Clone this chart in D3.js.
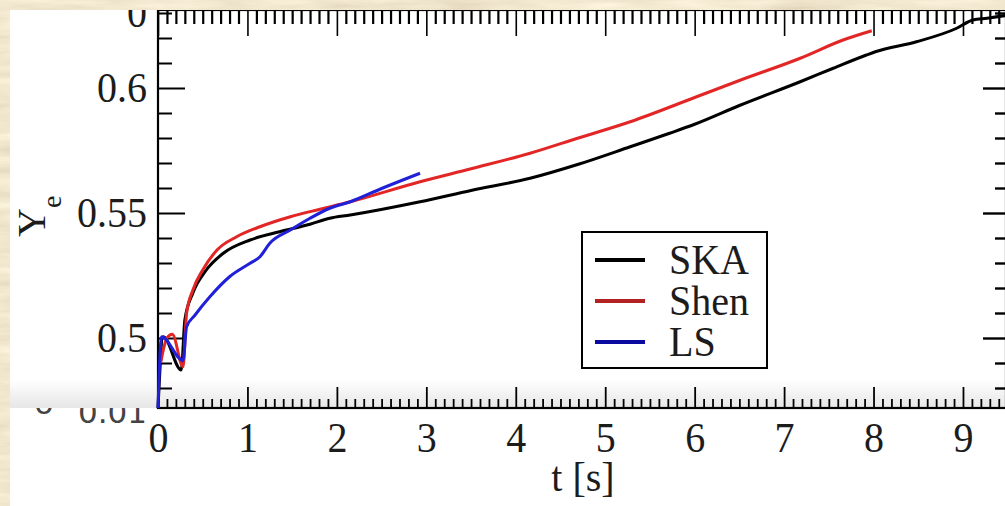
<!DOCTYPE html>
<html>
<head>
<meta charset="utf-8">
<script src="https://cdn.jsdelivr.net/npm/d3@7"></script>
<style>
  html, body { margin: 0; padding: 0; background: #e2d0a6; }
  #chart { width: 1005px; height: 506px; }
  text { font-family: "Liberation Serif", "Times New Roman", serif; }
</style>
</head>
<body>
<div id="chart"></div>
<script>
// Ye vs time for three equations of state

const skaT  = [0, 0.06, 0.26, 0.30, 0.39, 0.54, 0.73, 1.03, 1.36, 1.70, 1.92, 2.15, 2.93, 3.5, 4.16, 4.7, 5.28, 5.72, 6.0, 6.5, 7.18, 7.55, 7.92, 8.02, 8.48, 8.93, 9.11, 9.27, 9.48];
const skaYe = [0.472, 0.5005, 0.4872, 0.5072, 0.518, 0.5272, 0.5339, 0.5392, 0.5425, 0.5455, 0.5479, 0.5492, 0.5545, 0.5590, 0.5639, 0.5695, 0.5765, 0.5819, 0.5855, 0.5930, 0.6025, 0.6079, 0.6132, 0.6145, 0.6185, 0.6239, 0.6272, 0.6279, 0.6290];

const shenT  = [0.03, 0.10, 0.16, 0.28, 0.32, 0.39, 0.50, 0.66, 0.88, 1.14, 1.48, 1.81, 2.15, 2.93, 3.5, 4.16, 4.7, 5.28, 6.0, 6.5, 7.18, 7.66, 7.98];
const shenYe = [0.490, 0.500, 0.5015, 0.4885, 0.510, 0.5192, 0.5272, 0.5352, 0.5405, 0.5445, 0.5485, 0.5515, 0.5545, 0.5625, 0.5677, 0.5739, 0.5800, 0.5865, 0.5962, 0.6030, 0.6119, 0.6192, 0.6229];

const lsT  = [0, 0.04, 0.28, 0.32, 0.41, 0.58, 0.80, 1.03, 1.14, 1.25, 1.48, 1.70, 1.92, 2.15, 2.5, 2.93];
const lsYe = [0.472, 0.5005, 0.491, 0.5045, 0.509, 0.5165, 0.5245, 0.5299, 0.5325, 0.5379, 0.5432, 0.5479, 0.5519, 0.5545, 0.5598, 0.5659];

const seriesNames = ['SKA', 'Shen', 'LS'];
const lineColors = ['#000000', '#e22626', '#2020d8'];
const legendColors = ['#000000', '#b22222', '#0a0aa0'];

const xMajor = [0, 1, 2, 3, 4, 5, 6, 7, 8, 9];
const yMajor = [0.5, 0.55, 0.6];

const W = 1005, H = 506;
const plot = { left: 158, right: 1006, top: 10, bottom: 408 };
const ink = '#1c1c1c';

const series = [
    { name: seriesNames[0], pts: skaT.map((t, i) => [t, skaYe[i]]) },
    { name: seriesNames[1], pts: shenT.map((t, i) => [t, shenYe[i]]) },
    { name: seriesNames[2], pts: lsT.map((t, i) => [t, lsYe[i]]) }
];

function drawChart() {
    const svg = d3.select('#chart').append('svg')
        .attr('width', W)
        .attr('height', H);

    const defs = svg.append('defs');

    // parchment texture behind the figure
    const f = defs.append('filter').attr('id', 'parch')
        .attr('x', 0).attr('y', 0).attr('width', 1).attr('height', 1);
    f.append('feTurbulence')
        .attr('type', 'fractalNoise')
        .attr('baseFrequency', '0.012 0.09')
        .attr('numOctaves', 4)
        .attr('seed', 7);
    f.append('feColorMatrix')
        .attr('type', 'matrix')
        .attr('values', '0.32 0 0 0 0.72  0.32 0 0 0 0.64  0.32 0 0 0 0.46  0 0 0 0 1');

    const grad = defs.append('linearGradient').attr('id', 'band')
        .attr('x1', 0).attr('y1', 0).attr('x2', 0).attr('y2', 1);
    grad.append('stop').attr('offset', '0%').attr('stop-color', '#ffffff');
    grad.append('stop').attr('offset', '100%').attr('stop-color', '#e6e6e6');

    defs.append('clipPath').attr('id', 'panel')
        .append('rect').attr('x', 10).attr('y', 10).attr('width', W - 10).attr('height', H - 10);

    svg.append('rect')
        .attr('width', W).attr('height', H)
        .attr('fill', '#e2d0a6')
        .attr('filter', 'url(#parch)');

    const root = svg.append('g').attr('clip-path', 'url(#panel)');

    root.append('rect')
        .attr('x', 10).attr('y', 10)
        .attr('width', W - 10).attr('height', H - 10)
        .attr('fill', '#fff');

    // fragments of the panel below, partly hidden
    root.append('text')
        .attr('x', 147).attr('y', 423)
        .attr('text-anchor', 'end')
        .style('font-family', '"DejaVu Sans", sans-serif')
        .style('font-size', '31px')
        .attr('fill', '#444')
        .text('0.01');
    root.append('text')
        .attr('x', 44).attr('y', 414)
        .attr('text-anchor', 'middle')
        .style('font-family', '"DejaVu Sans", sans-serif')
        .style('font-size', '31px')
        .attr('fill', '#444')
        .text('o');

    root.append('rect')
        .attr('x', 10).attr('y', 380)
        .attr('width', W - 10).attr('height', plot.bottom - 380)
        .attr('fill', 'url(#band)');

    const x = d3.scaleLinear().domain([0, 9.481]).range([plot.left, plot.right]);
    const y = d3.scaleLinear().domain([0.472, 0.6312]).range([plot.bottom, plot.top]);

    const xMinor = d3.range(0, 95).map(i => i / 10).filter(v => Math.abs(v - Math.round(v)) > 1e-6);
    const yMinor = d3.range(48, 64).map(i => i / 100).filter(v => !yMajor.some(m => Math.abs(m - v) < 1e-6));

    function styleAxis(g, w) {
        g.select('.domain').remove();
        g.selectAll('line').attr('stroke', '#000').attr('stroke-width', w);
    }

    // minor ticks
    root.append('g').attr('transform', `translate(0,${plot.bottom})`)
        .call(d3.axisBottom(x).tickValues(xMinor).tickSize(-9).tickFormat(''))
        .call(g => styleAxis(g, 1.8));
    root.append('g').attr('transform', `translate(0,${plot.top})`)
        .call(d3.axisTop(x).tickValues(xMinor).tickSize(-14).tickFormat(''))
        .call(g => styleAxis(g, 2.2));
    root.append('g').attr('transform', `translate(${plot.left},0)`)
        .call(d3.axisLeft(y).tickValues(yMinor).tickSize(-14).tickFormat(''))
        .call(g => styleAxis(g, 2));
    root.append('g').attr('transform', `translate(${plot.right},0)`)
        .call(d3.axisLeft(y).tickValues(yMinor).tickSize(11).tickFormat(''))
        .call(g => styleAxis(g, 2.4));

    // major ticks with labels
    const xAxis = root.append('g').attr('transform', `translate(0,${plot.bottom})`)
        .call(d3.axisBottom(x).tickValues(xMajor).tickSize(-21).tickPadding(12).tickFormat(d3.format('d')))
        .call(g => styleAxis(g, 1.8));
    root.append('g').attr('transform', `translate(0,${plot.top})`)
        .call(d3.axisTop(x).tickValues(xMajor).tickSize(-26).tickFormat(''))
        .call(g => styleAxis(g, 1.6));
    const yAxis = root.append('g').attr('transform', `translate(${plot.left},0)`)
        .call(d3.axisLeft(y).tickValues(yMajor).tickSize(-27).tickPadding(11).tickFormat(d => String(d)))
        .call(g => styleAxis(g, 2));
    root.append('g').attr('transform', `translate(${plot.right},0)`)
        .call(d3.axisLeft(y).tickValues(yMajor).tickSize(23).tickFormat(''))
        .call(g => styleAxis(g, 2.4));

    [xAxis, yAxis].forEach(a => a.selectAll('text')
        .attr('transform', 'scale(1,1.08)')
        .attr('fill', ink)
        .style('font-family', '"Liberation Serif", serif')
        .style('font-size', '40px'));

    // clipped label remnant at the top of the y axis
    root.append('text')
        .attr('transform', `translate(${plot.left - 11},${y(0.63)}) scale(1,1.08)`)
        .attr('dy', '0.32em')
        .attr('text-anchor', 'end')
        .style('font-size', '40px')
        .attr('fill', ink)
        .text('0');

    // frame
    root.append('rect')
        .attr('x', plot.left).attr('y', plot.top)
        .attr('width', plot.right - plot.left).attr('height', plot.bottom - plot.top)
        .attr('fill', 'none')
        .attr('stroke', '#000')
        .attr('stroke-width', 2.2);

    // curves
    const line = d3.line().x(d => x(d[0])).y(d => y(d[1])).curve(d3.curveMonotoneX);
    root.append('g').selectAll('path')
        .data(series)
        .join('path')
        .attr('d', d => line(d.pts))
        .attr('fill', 'none')
        .attr('stroke', (d, i) => lineColors[i])
        .attr('stroke-width', 3)
        .attr('stroke-linejoin', 'round');

    // axis titles
    root.append('text')
        .attr('transform', 'translate(583,491) scale(1,1.05)')
        .attr('text-anchor', 'middle')
        .style('font-size', '40px')
        .attr('fill', ink)
        .text('t [s]');

    const yl = root.append('text')
        .attr('transform', 'translate(45,237) rotate(-90)')
        .style('font-size', '40px')
        .attr('fill', ink);
    yl.append('tspan').text('Y');
    yl.append('tspan').attr('dy', 16).style('font-size', '28px').text('e');

    // legend
    const leg = root.append('g');
    leg.append('rect')
        .attr('x', 582).attr('y', 232)
        .attr('width', 185).attr('height', 136)
        .attr('fill', '#fff')
        .attr('stroke', '#000')
        .attr('stroke-width', 2);
    const rows = leg.selectAll('g.row')
        .data(series)
        .join('g')
        .attr('class', 'row')
        .attr('transform', (d, i) => `translate(0,${260 + i * 41})`);
    rows.append('line')
        .attr('x1', 595).attr('x2', 645)
        .attr('stroke', (d, i) => legendColors[i])
        .attr('stroke-width', 4);
    rows.append('text')
        .attr('transform', 'translate(669,14) scale(1,1.06)')
        .style('font-size', '40px')
        .attr('fill', ink)
        .text(d => d.name);
}

window.addEventListener('DOMContentLoaded', drawChart);
</script>
</body>
</html>
